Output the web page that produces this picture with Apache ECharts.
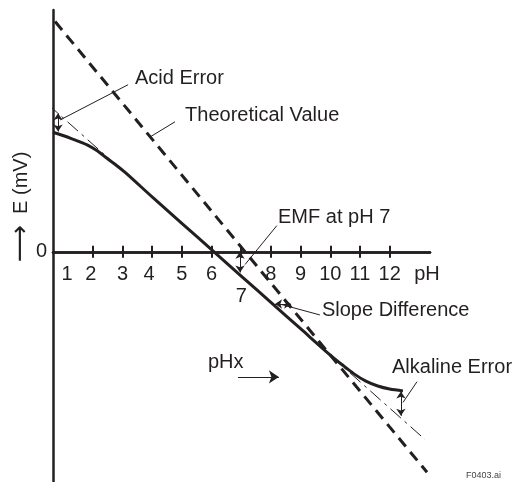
<!DOCTYPE html>
<html>
<head>
<meta charset="utf-8">
<script src="https://cdn.jsdelivr.net/npm/echarts@6/dist/echarts.min.js"></script>
<style>
html, body { margin: 0; padding: 0; background: #fff; }
#chart { width: 519px; height: 482px; }
</style>
</head>
<body>
<div id="chart"></div>
<script>
// pH on x, electrode potential E (mV) on y
const phTicks = [2, 3, 4, 5, 6, 7, 8, 9, 10, 11, 12]
const phLabels = [1, 2, 3, 4, 5, 6, 7, 8, 9, 10, 11, 12]
const eLabels = [0]

// theoretical Nernst line
const theoreticalPh = [0.73, 13.26]
const theoreticalE = [379, -363]

// extension of the real electrode slope (dash-dot)
const slopePh = [-0.21, 13.19]
const slopeE = [273, -309]

// measured electrode response
const measuredPh = [0.66, 0.97, 1.3, 1.81, 2.15, 2.41, 2.75, 3.09, 4, 5, 6, 7, 8, 9, 10, 10.4, 10.8, 11.2, 11.6, 12.0, 12.45]
const measuredE = [196.7, 191.8, 186, 176.1, 166.2, 156.4, 144, 130.7, 90.3, 46.9, 3.5, -39.9, -83.3, -126.7, -170.1, -186, -201, -213, -221, -226, -229]

const ink = '#231f20'
const font = 'Liberation Sans, Arial, sans-serif'

const pairs = (xs, ys) => xs.map((x, i) => [x, ys[i]])

const chart = echarts.init(document.getElementById('chart'))

// annotation helpers (data coordinates)
const seg = (a, b) => [{ coord: a }, { coord: b }]
const dbl = (a, b) => [{ coord: a, symbol: 'arrow' }, { coord: b, symbol: 'arrow' }]
const note = (text, at) => ({
  coord: at,
  symbol: 'circle',
  symbolSize: 0,
  label: { show: true, formatter: text, position: 'right', distance: 0, fontSize: 20, color: ink, fontFamily: font }
})

// small horizontal nudges of a few tick labels, as in the original drawing
const labelShift = { 1: 4, 2: -2, 4: -3 }

const option = {
  animation: false,
  backgroundColor: '#fff',
  grid: { left: 53, right: 89, top: 10, bottom: 0, containLabel: false, outerBoundsMode: 'none' },
  xAxis: [
    {
      type: 'value',
      min: 0.66,
      max: 13.36,
      position: 'bottom',
      axisLine: { onZero: true, onZeroAxisIndex: 0, lineStyle: { color: ink, width: 2.5 } },
      axisTick: { show: true, customValues: phTicks, length: 6, lineStyle: { color: ink, width: 2 } },
      axisLabel: { show: false },
      splitLine: { show: false },
      name: 'pH',
      nameLocation: 'end',
      nameGap: -3,
      nameMoveOverlap: false,
      nameTextStyle: { fontSize: 20, color: ink, fontFamily: font, align: 'center', verticalAlign: 'top', padding: [13, 0, 0, 0] }
    },
    {
      type: 'value',
      min: 0.66,
      max: 13.36,
      position: 'top',
      axisLine: { onZero: true, onZeroAxisIndex: 0, lineStyle: { color: ink, width: 2.5 } },
      axisTick: { show: true, customValues: phTicks, length: 6, lineStyle: { color: ink, width: 2 } },
      axisLabel: { show: false },
      splitLine: { show: false }
    }
  ],
  yAxis: {
    type: 'value',
    min: -379,
    max: 398,
    axisLine: { show: true, onZero: false, lineStyle: { color: ink, width: 2.5 } },
    axisTick: { show: false },
    axisLabel: { customValues: eLabels, margin: 6, fontSize: 20, color: ink, fontFamily: font },
    splitLine: { show: false },
    name: '{arr|⟶}  E (mV)',
    nameLocation: 'middle',
    nameRotate: 90,
    nameGap: 19,
    nameMoveOverlap: false,
    nameTextStyle: {
      fontSize: 20, color: ink, fontFamily: font, padding: [0, 0, 0, 78],
      rich: { arr: { fontSize: 26, color: ink, fontFamily: 'DejaVu Sans' } }
    }
  },
  graphic: [
    { type: 'text', left: 466, top: 471, style: { text: 'F0403.ai', fontSize: 9, fill: '#444', fontFamily: font } }
  ],
  series: [
    {
      name: 'Theoretical Value',
      type: 'line',
      data: pairs(theoreticalPh, theoreticalE),
      showSymbol: false,
      clip: false,
      lineStyle: { color: ink, width: 3, type: [11, 7] },
      markLine: {
        silent: true,
        symbol: ['none', 'none'],
        symbolSize: 7,
        label: { show: false },
        lineStyle: { color: ink, width: 1, type: 'solid' },
        data: [
          seg([0.9, 217], [3.19, 275]),
          seg([3.93, 189], [4.77, 214]),
          seg([7.13, -21], [8.2, 43]),
          seg([8.37, -87], [9.65, -104]),
          seg([12.45, -248], [12.92, -214]),
          dbl([0.83, 228], [0.83, 198]),
          dbl([6.96, 0], [6.96, -34]),
          dbl([8.14, -86], [8.68, -86]),
          dbl([12.38, -230], [12.38, -270]),
          [{ coord: [6.89, -206] }, { coord: [8.27, -206], symbol: 'arrow', symbolSize: 10 }]
        ]
      },
      markPoint: {
        silent: true,
        data: [
          note('Acid Error', [3.42, 286]),
          note('Theoretical Value', [5.11, 224]),
          note('EMF at pH 7', [8.24, 56]),
          note('Slope Difference', [9.72, -97]),
          note('Alkaline Error', [12.08, -191]),
          note('pHx', [5.88, -183])
        ]
      }
    },
    {
      name: 'Slope',
      type: 'line',
      data: pairs(slopePh, slopeE),
      showSymbol: false,
      clip: false,
      lineStyle: { color: ink, width: 1, type: [14, 5, 3, 5] }
    },
    {
      name: 'Measured',
      type: 'line',
      data: pairs(measuredPh, measuredE),
      showSymbol: false,
      smooth: 0.3,
      clip: false,
      lineStyle: { color: ink, width: 3 }
    },
    {
      // pH tick labels, hung under the E = 0 axis line
      name: 'pH labels',
      type: 'scatter',
      silent: true,
      symbolSize: 0,
      itemStyle: { opacity: 1 },
      data: phLabels.map(v => ({
        value: [v, 0],
        label: { distance: v === 7 ? 35 : 13, offset: [labelShift[v] || 0, 0] }
      })),
      label: {
        show: true,
        position: 'bottom',
        formatter: p => String(p.value[0]),
        fontSize: 20,
        color: ink,
        fontFamily: font
      }
    }
  ]
}

chart.setOption(option)
</script>
</body>
</html>
